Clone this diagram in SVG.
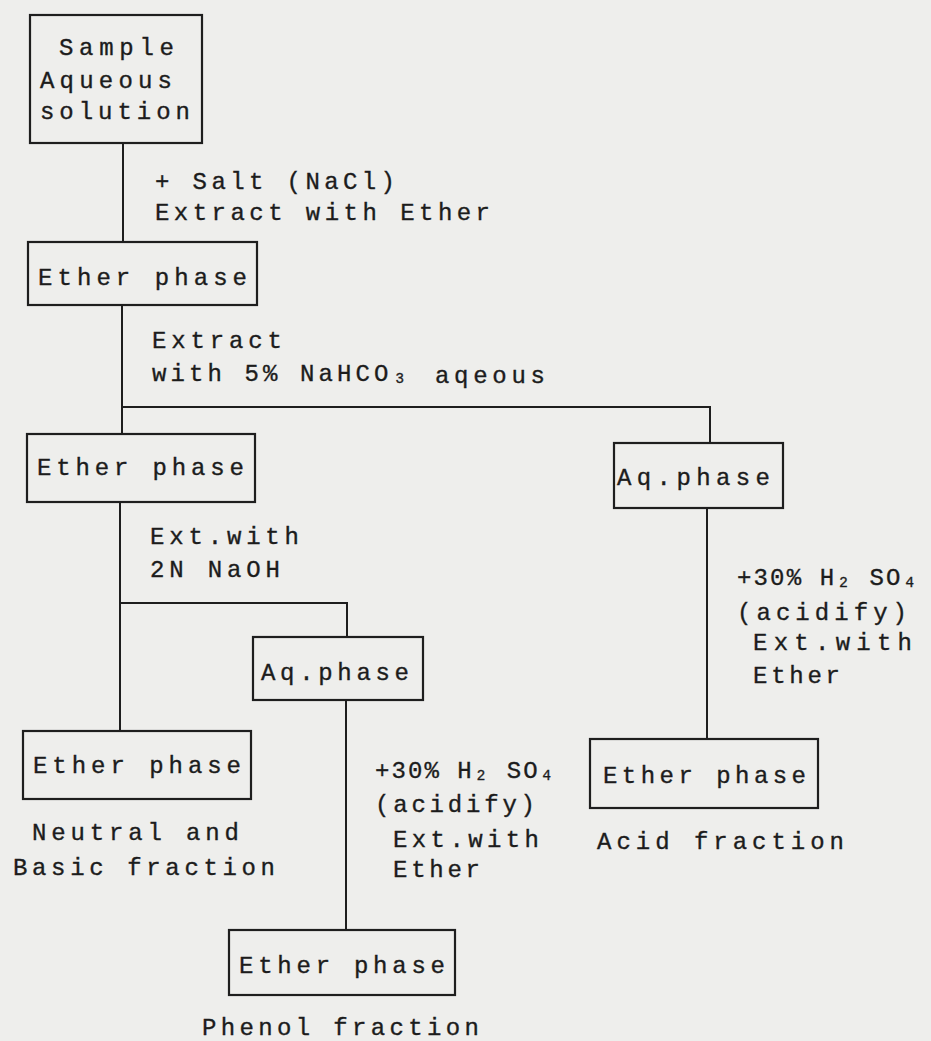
<svg xmlns="http://www.w3.org/2000/svg" width="931" height="1041" viewBox="0 0 931 1041">
<style>
.box{fill:none;stroke:#1e1e1e;stroke-width:2.2}
.ln{fill:none;stroke:#1e1e1e;stroke-width:2}
text{font-family:"Liberation Mono","DejaVu Sans Mono",monospace;font-size:24px;fill:#1c1c1c;stroke:#1c1c1c;stroke-width:0.35}
</style>
<rect x="0" y="0" width="931" height="1041" fill="#eeeeec"/>
<g id="connectors">
<path class="ln" d="M123,143 V242"/>
<path class="ln" d="M122,305 V434 M122,407 H710 V443"/>
<path class="ln" d="M120,502 V731 M120,603 H347 V637"/>
<path class="ln" d="M346,700 V930"/>
<path class="ln" d="M707,508 V739"/>
</g>
<g id="labels">
<text x="155" y="189" textLength="240" lengthAdjust="spacing">+ Salt (NaCl)</text>
<text x="155" y="220" textLength="335" lengthAdjust="spacing">Extract with Ether</text>
<text x="152" y="348" textLength="130" lengthAdjust="spacing">Extract</text>
<text x="152" y="381" textLength="255" lengthAdjust="spacing">with 5% NaHCO₃</text>
<text x="435" y="383" textLength="110" lengthAdjust="spacing">aqeous</text>
<text x="150" y="544" textLength="149" lengthAdjust="spacing">Ext.with</text>
<text x="150" y="577" textLength="130" lengthAdjust="spacing">2N NaOH</text>
<text x="737" y="585" textLength="180" lengthAdjust="spacing">+30% H₂ SO₄</text>
<text x="737" y="620" textLength="170" lengthAdjust="spacing">(acidify)</text>
<text x="753" y="650" textLength="159" lengthAdjust="spacing">Ext.with</text>
<text x="753" y="683" textLength="87" lengthAdjust="spacing">Ether</text>
<text x="375" y="778" textLength="179" lengthAdjust="spacing">+30% H₂ SO₄</text>
<text x="375" y="812" textLength="160" lengthAdjust="spacing">(acidify)</text>
<text x="393" y="847" textLength="146" lengthAdjust="spacing">Ext.with</text>
<text x="393" y="877" textLength="87" lengthAdjust="spacing">Ether</text>
<text x="32" y="840" textLength="207" lengthAdjust="spacing">Neutral and</text>
<text x="13" y="875" textLength="262" lengthAdjust="spacing">Basic fraction</text>
<text x="597" y="849" textLength="247" lengthAdjust="spacing">Acid fraction</text>
<text x="202" y="1035" textLength="277" lengthAdjust="spacing">Phenol fraction</text>
</g>
<g id="sample">
<rect class="box" x="30" y="15" width="172" height="128"/>
<text x="59" y="55" textLength="115" lengthAdjust="spacing">Sample</text>
<text x="40" y="88" textLength="132" lengthAdjust="spacing">Aqueous</text>
<text x="40" y="119" textLength="150" lengthAdjust="spacing">solution</text>
</g>
<g id="ether1">
<rect class="box" x="28" y="242" width="229" height="63"/>
<text x="38" y="285" textLength="209" lengthAdjust="spacing">Ether phase</text>
</g>
<g id="ether2">
<rect class="box" x="27" y="434" width="228" height="68"/>
<text x="37" y="475" textLength="207" lengthAdjust="spacing">Ether phase</text>
</g>
<g id="aq-right">
<rect class="box" x="614" y="443" width="169" height="65"/>
<text x="617" y="485" textLength="153" lengthAdjust="spacing">Aq.phase</text>
</g>
<g id="aq-middle">
<rect class="box" x="253" y="637" width="170" height="63"/>
<text x="261" y="680" textLength="148" lengthAdjust="spacing">Aq.phase</text>
</g>
<g id="ether-neutral">
<rect class="box" x="23" y="731" width="228" height="68"/>
<text x="33" y="773" textLength="208" lengthAdjust="spacing">Ether phase</text>
</g>
<g id="ether-acid">
<rect class="box" x="590" y="739" width="228" height="69"/>
<text x="603" y="783" textLength="203" lengthAdjust="spacing">Ether phase</text>
</g>
<g id="ether-phenol">
<rect class="box" x="229" y="930" width="226" height="65"/>
<text x="239" y="973" textLength="206" lengthAdjust="spacing">Ether phase</text>
</g>
</svg>
